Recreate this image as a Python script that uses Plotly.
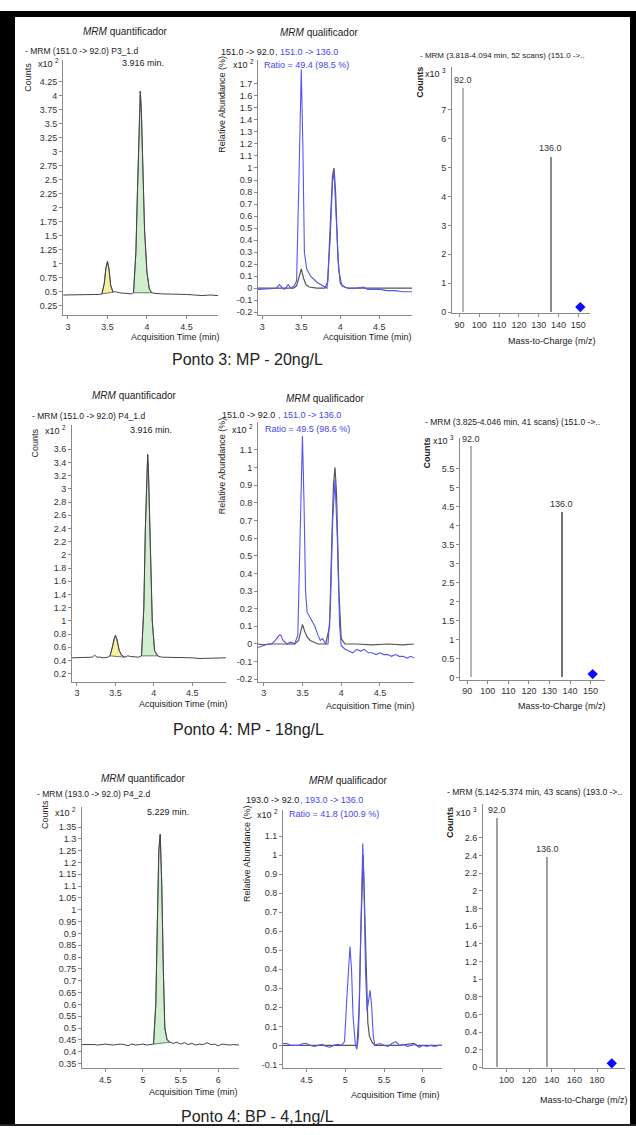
import plotly.graph_objects as go

W, H = 636, 1135
FONT = "Liberation Sans Narrow, Arial Narrow, Liberation Sans, Arial, sans-serif"
FONT_W = "Liberation Sans, Arial, sans-serif"

# ================= DATA =================
# ---- Row 1: Ponto 3, MP 20 ng/L ----
r1_quant_t = [2.94, 3.0, 3.1, 3.2, 3.3, 3.4, 3.43, 3.46, 3.48, 3.50, 3.52, 3.54, 3.57, 3.6, 3.65, 3.7, 3.75, 3.8,
              3.83, 3.86, 3.88, 3.90, 3.916, 3.93, 3.95, 3.97, 4.0, 4.03, 4.06, 4.1, 4.2, 4.3, 4.4, 4.5, 4.6, 4.7, 4.8, 4.9]
r1_quant_y = [0.44, 0.44, 0.44, 0.44, 0.445, 0.45, 0.46, 0.65, 0.92, 1.04, 0.9, 0.62, 0.49, 0.5, 0.48, 0.47, 0.46, 0.46,
              0.48, 1.2, 2.3, 3.5, 4.08, 3.7, 2.6, 1.6, 0.85, 0.55, 0.48, 0.47, 0.46, 0.46, 0.45, 0.45, 0.44, 0.43, 0.44, 0.43]
r1_quant_peaks = [(3.43, 3.57, "#f6f0a0"), (3.83, 4.06, "#cfefcf")]

r1_qual_t_a = [2.945, 3.0, 3.1, 3.2, 3.3, 3.4, 3.44, 3.47, 3.5, 3.53, 3.56, 3.6, 3.7, 3.8, 3.84, 3.87, 3.9, 3.92, 3.94,
               3.97, 4.0, 4.05, 4.1, 4.2, 4.3, 4.4, 4.5, 4.6, 4.7, 4.8, 4.92]
r1_qual_y_a = [0.0, 0.0, 0.0, 0.0, 0.0, 0.0, 0.02, 0.1, 0.16, 0.08, 0.03, 0.01, 0.0, 0.0, 0.05, 0.5, 0.93, 1.0, 0.8,
               0.25, 0.04, 0.01, 0.0, 0.0, 0.0, 0.0, 0.0, 0.0, 0.0, 0.0, 0.0]
r1_qual_t_b = [2.945, 3.0, 3.1, 3.18, 3.22, 3.26, 3.29, 3.33, 3.37, 3.41, 3.44, 3.47, 3.5, 3.52, 3.54, 3.57, 3.62,
               3.7, 3.78, 3.83, 3.87, 3.9, 3.92, 3.95, 3.98, 4.02, 4.1, 4.2, 4.3, 4.35, 4.4, 4.5, 4.6, 4.7, 4.8, 4.92]
r1_qual_y_b = [-0.01, -0.01, -0.005, 0.0, 0.03, 0.0, -0.01, 0.03, 0.0, 0.02, 0.06, 0.9, 1.82, 1.2, 0.3, 0.16, 0.1,
               0.05, 0.02, 0.0, 0.4, 0.88, 0.97, 0.6, 0.15, 0.02, 0.0, 0.0, 0.01, -0.01, -0.01, -0.01, -0.02, -0.02, -0.03, -0.03]
r1_spec_mz = [92.0, 136.0]
r1_spec_counts = [7.77, 5.39]
r1_spec_labels = ["92.0", "136.0"]
r1_prec_mz = [151.0]
r1_prec_y = [0.17]

# ---- Row 2: Ponto 4, MP 18 ng/L ----
r2_quant_t = [2.935, 3.0, 3.05, 3.1, 3.15, 3.2, 3.23, 3.26, 3.3, 3.35, 3.4, 3.43, 3.46, 3.48, 3.5, 3.52, 3.55, 3.58,
              3.62, 3.66, 3.7, 3.75, 3.8, 3.84, 3.87, 3.89, 3.91, 3.92, 3.93, 3.95, 3.98, 4.01, 4.05, 4.1, 4.2, 4.3,
              4.4, 4.5, 4.6, 4.7, 4.8, 4.94]
r2_quant_y = [0.44, 0.44, 0.45, 0.44, 0.45, 0.45, 0.48, 0.45, 0.45, 0.44, 0.45, 0.47, 0.6, 0.72, 0.78, 0.72, 0.55, 0.48,
              0.45, 0.47, 0.46, 0.45, 0.45, 0.47, 1.2, 2.4, 3.3, 3.52, 3.3, 2.2, 1.0, 0.55, 0.47, 0.45, 0.45, 0.44,
              0.44, 0.44, 0.43, 0.43, 0.44, 0.44]
r2_quant_peaks = [(3.43, 3.62, "#f6f0a0"), (3.84, 4.05, "#cfefcf")]

r2_qual_t_a = [2.926, 3.0, 3.1, 3.2, 3.3, 3.4, 3.45, 3.48, 3.5, 3.53, 3.56, 3.6, 3.7, 3.8, 3.85, 3.88, 3.9, 3.92, 3.94,
               3.97, 4.0, 4.05, 4.2, 4.4, 4.6, 4.8, 4.94]
r2_qual_y_a = [0.0, -0.005, 0.0, 0.0, 0.0, 0.0, 0.02, 0.08, 0.11, 0.07, 0.04, 0.02, 0.0, 0.0, 0.1, 0.6, 0.9, 1.0, 0.85,
               0.3, 0.03, 0.0, 0.0, -0.005, 0.0, -0.005, 0.0]
r2_qual_t_b = [2.926, 3.0, 3.05, 3.1, 3.15, 3.2, 3.22, 3.25, 3.3, 3.35, 3.4, 3.44, 3.47, 3.5, 3.52, 3.54, 3.56, 3.6,
               3.63, 3.66, 3.7, 3.73, 3.76, 3.8, 3.83, 3.86, 3.89, 3.92, 3.95, 3.98, 4.0, 4.05, 4.1, 4.15, 4.2, 4.25,
               4.3, 4.35, 4.4, 4.45, 4.5, 4.55, 4.6, 4.65, 4.7, 4.75, 4.8, 4.85, 4.9, 4.94]
r2_qual_y_b = [-0.02, -0.01, 0.0, 0.0, 0.02, 0.05, 0.05, 0.02, 0.0, 0.01, 0.0, 0.05, 0.6, 1.18, 0.8, 0.3, 0.18, 0.15,
               0.12, 0.1, 0.05, 0.02, 0.03, 0.0, 0.0, 0.2, 0.7, 0.93, 0.6, 0.1, -0.01, -0.03, -0.04, -0.05, -0.03, -0.04,
               -0.03, -0.05, -0.05, -0.06, -0.05, -0.06, -0.06, -0.07, -0.06, -0.07, -0.07, -0.08, -0.07, -0.08]
r2_spec_mz = [92.0, 136.0]
r2_spec_counts = [6.07, 4.35]
r2_spec_labels = ["92.0", "136.0"]
r2_prec_mz = [151.0]
r2_prec_y = [0.1]

# ---- Row 3: Ponto 4, BP 4,1 ng/L ----
r3_quant_t = [4.19, 4.25, 4.3, 4.35, 4.4, 4.45, 4.5, 4.55, 4.6, 4.65, 4.7, 4.75, 4.8, 4.85, 4.9, 4.95, 5.0, 5.05,
              5.1, 5.14, 5.17, 5.19, 5.21, 5.229, 5.25, 5.27, 5.29, 5.32, 5.36, 5.4, 5.45, 5.5, 5.55, 5.6, 5.65, 5.7,
              5.75, 5.8, 5.85, 5.9, 5.95, 6.0, 6.05, 6.1, 6.15, 6.2, 6.275]
r3_quant_y = [0.43, 0.43, 0.432, 0.43, 0.428, 0.43, 0.432, 0.43, 0.428, 0.43, 0.432, 0.43, 0.425, 0.432, 0.428,
              0.43, 0.432, 0.428, 0.43, 0.432, 0.6, 0.95, 1.25, 1.32, 1.1, 0.75, 0.5, 0.45, 0.44, 0.435, 0.44,
              0.432, 0.438, 0.43, 0.435, 0.428, 0.432, 0.43, 0.438, 0.43, 0.432, 0.425, 0.432, 0.43, 0.428, 0.43, 0.428]
r3_quant_peaks = [(5.14, 5.36, "#cfefcf")]

r3_qual_t_a = [4.197, 4.4, 4.6, 4.8, 5.0, 5.15, 5.18, 5.2, 5.23, 5.25, 5.27, 5.29, 5.31, 5.34, 5.38, 5.5, 5.7, 5.88,
               5.92, 6.1, 6.246]
r3_qual_y_a = [0.0, 0.0, 0.0, 0.0, 0.0, 0.0, 0.2, 0.6, 1.0, 0.7, 0.3, 0.12, 0.05, 0.02, 0.0, 0.0, 0.0, 0.01, 0.0, 0.0, 0.0]
r3_qual_t_b = [4.197, 4.25, 4.3, 4.35, 4.4, 4.45, 4.5, 4.55, 4.6, 4.65, 4.7, 4.75, 4.8, 4.85, 4.9, 4.95, 4.99, 5.02,
               5.05, 5.06, 5.08, 5.1, 5.13, 5.15, 5.17, 5.19, 5.21, 5.225, 5.24, 5.26, 5.28, 5.3, 5.32, 5.34, 5.36,
               5.38, 5.4, 5.45, 5.5, 5.55, 5.6, 5.65, 5.7, 5.75, 5.8, 5.85, 5.9, 5.95, 6.0, 6.05, 6.1, 6.15, 6.2, 6.246]
r3_qual_y_b = [0.01, 0.01, 0.0, 0.0, 0.0, 0.01, 0.01, 0.0, -0.005, 0.0, 0.005, -0.005, -0.01, 0.0, 0.005, 0.0, 0.02,
               0.25, 0.5, 0.52, 0.4, 0.15, 0.0, -0.02, 0.05, 0.4, 0.9, 1.06, 0.85, 0.4, 0.18, 0.25, 0.29, 0.2, 0.05,
               0.0, 0.005, 0.01, 0.0, -0.005, 0.01, 0.02, 0.0, 0.005, -0.005, 0.0, 0.005, -0.01, 0.0, -0.005, 0.0,
               -0.005, 0.0, 0.0]
r3_spec_mz = [92.0, 136.0]
r3_spec_counts = [2.82, 2.376]
r3_spec_labels = ["92.0", "136.0"]
r3_prec_mz = [193.0]
r3_prec_y = [0.045]

# ================= LAYOUT HELPERS =================
def fx(px):
    return px / W


def fy(py):
    return 1 - py / H


def tickset(a, b, step):
    n = int(round((b - a) / step))
    vals = [round(a + i * step, 4) for i in range(n + 1)]
    return vals, [f"{v:g}" for v in vals]


fig = go.Figure()
layout = dict()
annotations = []

AX = dict(showline=True, linecolor="#8a8a8a", linewidth=1, ticks="outside", ticklen=3, tickcolor="#8a8a8a",
          tickfont=dict(size=9, color="#333", family=FONT), showgrid=False, zeroline=False, fixedrange=True)


def add_axes(i, box, xr, yr, xt, yt):
    l, r, t, b = box
    xk = "xaxis" if i == 1 else f"xaxis{i}"
    yk = "yaxis" if i == 1 else f"yaxis{i}"
    xv, xtxt = xt
    yv, ytxt = yt
    layout[xk] = dict(AX, domain=[fx(l), fx(r)], range=xr, anchor=f"y{i if i > 1 else ''}",
                      tickvals=xv, ticktext=xtxt)
    layout[yk] = dict(AX, domain=[fy(b), fy(t)], range=yr, anchor=f"x{i if i > 1 else ''}",
                      tickvals=yv, ticktext=ytxt)
    return (f"x{i if i > 1 else ''}", f"y{i if i > 1 else ''}")


def ann(px, py, text, size=9, color="#222", xanchor="left", angle=0, family=FONT):
    annotations.append(dict(x=fx(px), y=fy(py), xref="paper", yref="paper", text=text, showarrow=False,
                            xanchor=xanchor, yanchor="middle", textangle=angle,
                            font=dict(size=size, color=color, family=family)))


def quant_panel(i, box, xr, yr, xt, yt, t, y, peaks):
    xa, ya = add_axes(i, box, xr, yr, xt, yt)
    for (t0, t1, col) in peaks:
        st = [tt for tt in t if t0 <= tt <= t1]
        sy = [yy for tt, yy in zip(t, y) if t0 <= tt <= t1]
        fig.add_trace(go.Scatter(x=st + [st[-1], st[0]], y=sy + [sy[-1], sy[0]], fill="toself", fillcolor=col,
                                 mode="lines", line=dict(color="#555", width=0.8), xaxis=xa, yaxis=ya,
                                 hoverinfo="skip", showlegend=False))
    fig.add_trace(go.Scatter(x=t, y=y, mode="lines", line=dict(color="#444", width=1), xaxis=xa, yaxis=ya,
                             showlegend=False))


def qual_panel(i, box, xr, yr, xt, yt, ta, ya_, tb, yb):
    xa, ya = add_axes(i, box, xr, yr, xt, yt)
    fig.add_trace(go.Scatter(x=ta, y=ya_, mode="lines", line=dict(color="#555", width=1.2), xaxis=xa, yaxis=ya,
                             showlegend=False))
    fig.add_trace(go.Scatter(x=tb, y=yb, mode="lines", line=dict(color="#5555f2", width=1.1), xaxis=xa, yaxis=ya,
                             showlegend=False))


def spec_panel(i, box, xr, yr, xt, yt, mz, counts, labels, widths, colors, pmz, py):
    xa, ya = add_axes(i, box, xr, yr, xt, yt)
    fig.add_trace(go.Bar(x=mz, y=counts, width=widths, marker=dict(color=colors, line=dict(width=0)),
                         xaxis=xa, yaxis=ya, showlegend=False))
    for m, c, lab in zip(mz, counts, labels):
        annotations.append(dict(x=m, y=c, xref=xa, yref=ya, text=lab, showarrow=False, xanchor="center",
                                yanchor="bottom", yshift=1, font=dict(size=9, color="#333", family=FONT)))
    fig.add_trace(go.Scatter(x=pmz, y=py, mode="markers", marker=dict(symbol="diamond", size=8, color="#0a0aff"),
                             xaxis=xa, yaxis=ya, showlegend=False, cliponaxis=False))


BLUE = "#4646f0"

# ---------- Row 1 ----------
quant_panel(1, (63, 218, 60, 316), [2.937, 4.9], [0.085, 4.64], tickset(3, 4.5, 0.5), tickset(0.25, 4.25, 0.25),
            r1_quant_t, r1_quant_y, r1_quant_peaks)
qual_panel(2, (258, 412, 60, 316), [2.945, 4.92], [-0.222, 1.9], tickset(3, 4.5, 0.5), tickset(-0.2, 1.7, 0.1),
           r1_qual_t_a, r1_qual_y_a, r1_qual_t_b, r1_qual_y_b)
spec_panel(3, (452, 590, 67, 314), [86.2, 155.9], [-0.03, 8.49], tickset(90, 150, 10), tickset(0, 7, 1),
           r1_spec_mz, r1_spec_counts, r1_spec_labels, [1.0, 0.6], ["#b4b4b4", "#8c8c8c"], r1_prec_mz, r1_prec_y)

ann(125, 32, "<i>MRM</i> quantificador", size=10, xanchor="center")
ann(319, 33, "<i>MRM</i> qualificador", size=10, xanchor="center")
ann(23, 51, "- MRM (151.0 -> 92.0) P3_1.d", size=8.5)
ann(61, 63, "x10 <sup>2</sup>", xanchor="right")
ann(120, 63, "3.916 min.")
ann(28, 77, "Counts", angle=-90, xanchor="center")
ann(175, 338, "Acquisition Time (min)", xanchor="center")
ann(219, 52, "151.0 -> 92.0")
ann(273, 52, ", 151.0 -> 136.0", color=BLUE)
ann(256, 64, "x10 <sup>2</sup>", xanchor="right")
ann(262, 65, "Ratio = 49.4 (98.5 %)", color=BLUE)
ann(222, 105, "Relative Abundance (%)", angle=-90, xanchor="center")
ann(367, 338, "Acquisition Time (min)", xanchor="center")
ann(418, 56, "- MRM (3.818-4.094 min, 52 scans) (151.0 ->..", size=8)
ann(420, 83, "<b>Counts</b>", angle=-90, xanchor="center")
ann(448, 73, "x10 <sup>3</sup>", xanchor="right")
ann(552, 342, "Mass-to-Charge (m/z)", xanchor="center")
ann(247, 361, "Ponto 3: MP - 20ng/L", size=16, xanchor="center", family=FONT_W)

# ---------- Row 2 ----------
quant_panel(4, (72, 226, 427, 684), [2.935, 4.94], [0.08, 3.96], tickset(3, 4.5, 0.5), tickset(0.2, 3.6, 0.2),
            r2_quant_t, r2_quant_y, r2_quant_peaks)
qual_panel(5, (258, 414, 423, 684), [2.926, 4.94], [-0.213, 1.26], tickset(3, 4.5, 0.5), tickset(-0.2, 1.1, 0.1),
           r2_qual_t_a, r2_qual_y_a, r2_qual_t_b, r2_qual_y_b)
spec_panel(6, (460, 605, 440, 682), [86.45, 157], [-0.045, 6.29], tickset(90, 150, 10), tickset(0, 5.5, 0.5),
           r2_spec_mz, r2_spec_counts, r2_spec_labels, [1.0, 0.6], ["#b4b4b4", "#707070"], r2_prec_mz, r2_prec_y)

ann(134, 397, "<i>MRM</i> quantificador", size=10, xanchor="center")
ann(325, 400, "<i>MRM</i> qualificador", size=10, xanchor="center")
ann(30, 417, "- MRM (151.0 -> 92.0) P4_1.d", size=8.5)
ann(68, 432, "x10 <sup>2</sup>", xanchor="right")
ann(128, 432, "3.916 min.")
ann(35, 445, "Counts", angle=-90, xanchor="center")
ann(183, 706, "Acquisition Time (min)", xanchor="center")
ann(220, 416, "151.0 -> 92.0")
ann(276, 416, ", 151.0 -> 136.0", color=BLUE)
ann(255, 431, "x10 <sup>2</sup>", xanchor="right")
ann(263, 431, "Ratio = 49.5 (98.6 %)", color=BLUE)
ann(222, 468, "Relative Abundance (%)", angle=-90, xanchor="center")
ann(370, 708, "Acquisition Time (min)", xanchor="center")
ann(423, 423, "- MRM (3.825-4.046 min, 41 scans) (151.0 ->..", size=8.5)
ann(427, 455, "<b>Counts</b>", angle=-90, xanchor="center")
ann(456, 442, "x10 <sup>3</sup>", xanchor="right")
ann(562, 708, "Mass-to-Charge (m/z)", xanchor="center")
ann(248, 732, "Ponto 4: MP - 18ng/L", size=16, xanchor="center", family=FONT_W)

# ---------- Row 3 ----------
quant_panel(7, (82, 239, 810, 1072), [4.19, 6.275], [0.33, 1.434], tickset(4.5, 6, 0.5), tickset(0.35, 1.35, 0.05),
            r3_quant_t, r3_quant_y, r3_quant_peaks)
qual_panel(8, (283, 442, 813, 1072), [4.197, 6.246], [-0.12, 1.236], tickset(4.5, 6, 0.5), tickset(-0.1, 1.1, 0.1),
           r3_qual_t_a, r3_qual_y_a, r3_qual_t_b, r3_qual_y_b)
spec_panel(9, (483, 625, 807, 1072), [79.3, 204.7], [-0.01, 2.98], tickset(100, 180, 20), tickset(0, 2.6, 0.2),
           r3_spec_mz, r3_spec_counts, r3_spec_labels, [1.6, 1.3], ["#a0a0a0", "#a0a0a0"], r3_prec_mz, r3_prec_y)

ann(143, 781, "<i>MRM</i> quantificador", size=10, xanchor="center")
ann(348, 783, "<i>MRM</i> qualificador", size=10, xanchor="center")
ann(35, 797, "- MRM (193.0 -> 92.0) P4_2.d", size=8.5)
ann(78, 815, "x10 <sup>2</sup>", xanchor="right")
ann(145, 815, "5.229 min.")
ann(45, 818, "Counts", angle=-90, xanchor="center")
ann(193, 1096, "Acquisition Time (min)", xanchor="center")
ann(244, 803, "193.0 -> 92.0")
ann(298, 803, ", 193.0 -> 136.0", color=BLUE)
ann(280, 817, "x10 <sup>2</sup>", xanchor="right")
ann(287, 817, "Ratio = 41.8 (100.9 %)", color=BLUE)
ann(247, 857, "Relative Abundance (%)", angle=-90, xanchor="center")
ann(395, 1099, "Acquisition Time (min)", xanchor="center")
ann(445, 795, "- MRM (5.142-5.374 min, 43 scans) (193.0 ->..", size=8.5)
ann(450, 825, "<b>Counts</b>", angle=-90, xanchor="center")
ann(479, 815, "x10 <sup>3</sup>", xanchor="right")
ann(584, 1104, "Mass-to-Charge (m/z)", xanchor="center")
ann(257, 1120, "Ponto 4: BP - 4,1ng/L", size=16, xanchor="center", family=FONT_W)

# ---------- frame ----------
shapes = [
    dict(type="rect", xref="paper", yref="paper", x0=0, x1=1, y0=fy(17), y1=fy(11), fillcolor="black", line_width=0),
    dict(type="rect", xref="paper", yref="paper", x0=0, x1=fx(15), y0=fy(1130), y1=fy(11), fillcolor="black",
         line_width=0),
    dict(type="rect", xref="paper", yref="paper", x0=fx(630), x1=1, y0=fy(1130), y1=fy(11), fillcolor="black",
         line_width=0),
    dict(type="rect", xref="paper", yref="paper", x0=0, x1=1, y0=fy(1130), y1=fy(1128), fillcolor="#222",
         line_width=0),
]

fig.update_layout(width=W, height=H, margin=dict(l=0, r=0, t=0, b=0), paper_bgcolor="white",
                  plot_bgcolor="white", showlegend=False, annotations=annotations, shapes=shapes,
                  font=dict(family=FONT, size=9, color="#333"), bargap=0, **layout)
fig.write_html("out.html")
